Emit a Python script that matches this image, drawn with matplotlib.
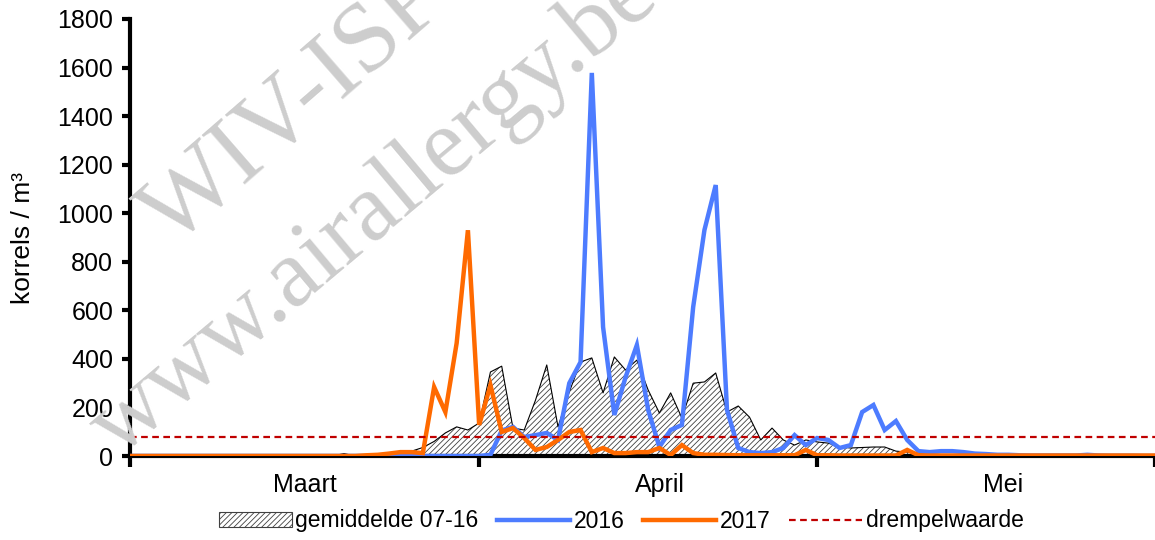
import numpy as np
import matplotlib
matplotlib.use('Agg')
import matplotlib.pyplot as plt
from matplotlib.patches import Patch
from matplotlib.lines import Line2D

# daily values 1 March - 31 May (korrels / m3)
gemiddelde = [0]*19 + [10, 0, 2, 5, 10, 20, 20, 35, 60, 95, 120,
              107, 136, 346, 370, 115, 107, 230, 375, 120, 264,
              387, 404, 260, 408, 354, 395, 272, 177, 260, 156,
              300, 305, 342, 181, 206, 160, 66, 115, 66, 45,
              66, 58, 53, 37, 33, 35, 37, 37, 20, 16,
              10, 8, 6, 5, 5, 4, 4, 3, 3, 3,
              2, 2, 2, 2, 2, 2, 2, 2, 1, 1, 1, 1]
jaar2016 = [0]*32 + [5, 105, 120, 78, 86, 95, 66, 300,
            387, 1578, 531, 169, 325, 457, 190, 37, 107, 128,
            614, 931, 1116, 190, 33, 16, 12, 16, 33, 86,
            45, 74, 66, 33, 45, 181, 210, 107, 144, 66,
            20, 16, 20, 20, 16, 10, 8, 5, 5, 3,
            2, 2, 2, 2, 2, 5, 2, 1, 1, 1,
            0, 0]
jaar2017 = [0]*21 + [3, 5, 10, 16, 16, 12, 284, 181, 465, 930,
            128, 292, 99, 115, 74, 25, 37, 66, 99, 107,
            16, 33, 12, 12, 16, 16, 33, 4, 45, 12,
            5, 5, 4, 3, 3, 3, 3, 3, 3, 25,
            3, 3, 2, 2, 2, 2, 2, 2, 25, 3,
            2, 2, 2, 2, 2, 2, 2, 2, 2, 2,
            2, 2, 2, 2, 2, 2, 2, 2, 2, 2, 2]
drempel = 80
maanden = ['Maart', 'April', 'Mei']
maand_grenzen = [0, 31, 61, 91]
label_pos = [15.5, 47, 77.5]

dagen = np.arange(len(gemiddelde))

plt.rcParams['font.family'] = ['Liberation Sans', 'DejaVu Sans']
plt.rcParams['hatch.linewidth'] = 0.6

fig = plt.figure(figsize=(11.55, 5.4), dpi=100)
ax = fig.add_axes([130/1155, 1 - 456/540, 1 - 130/1155, (456 - 19)/540])

# watermark
wm = '#cdcdcd'
fig.text(295/1155, 1 - 108/540, 'WIV-ISP', fontsize=72, family='Liberation Serif',
         color=wm, rotation=41, ha='center', va='center', zorder=0)
fig.text(375/1155, 1 - 212/540, 'www.airallergy.be', fontsize=70, family='Liberation Serif',
         color=wm, rotation=40, ha='center', va='center', zorder=0)
ax.patch.set_alpha(0)

ax.fill_between(dagen, 0, gemiddelde, facecolor='white', edgecolor='#404040',
                hatch='//////', linewidth=0, zorder=2)
ax.plot(dagen, gemiddelde, color='black', lw=0.8, zorder=3)
ax.plot(dagen, jaar2016, color='#4d7cff', lw=3.2, zorder=4, solid_joinstyle='miter')
ax.plot(dagen, jaar2017, color='#ff6a00', lw=3.2, zorder=5, solid_joinstyle='miter')
ax.axhline(drempel, color='#c00000', lw=1.6, ls=(0, (3, 2)), zorder=6)

ax.set_xlim(0, 91)
ax.set_ylim(0, 1800)
ax.set_yticks(range(0, 1801, 200))
ax.set_xticks(maand_grenzen)
ax.set_xticklabels([])
ax.set_xticks(label_pos, minor=True)
ax.set_xticklabels(maanden, minor=True)
ax.tick_params(axis='x', which='minor', length=0, labelsize=18, pad=12)
ax.tick_params(axis='x', which='major', length=8, width=3, direction='out')
ax.tick_params(axis='y', length=6, width=3, direction='out', labelsize=18, pad=6)
for s in ['top', 'right']:
    ax.spines[s].set_visible(False)
for s in ['left', 'bottom']:
    ax.spines[s].set_linewidth(3)
    ax.spines[s].set_zorder(3.5)
ax.set_ylabel('korrels / m³', fontsize=19, labelpad=16)

handles = [Patch(facecolor='white', edgecolor='#404040', hatch='//////', lw=0.8),
           Line2D([], [], color='#4d7cff', lw=3.2),
           Line2D([], [], color='#ff6a00', lw=3.2),
           Line2D([], [], color='#c00000', lw=1.6, ls=(0, (3, 2)))]
fig.legend(handles, ['gemiddelde 07-16', '2016', '2017', 'drempelwaarde'],
           loc='center', bbox_to_anchor=(621/1155, 1 - 521/540), ncol=4, frameon=False,
           prop={'size': 16.5}, handlelength=3.2, handletextpad=0.15,
           columnspacing=0.8, handleheight=0.6)

fig.savefig('out.png', dpi=100)
